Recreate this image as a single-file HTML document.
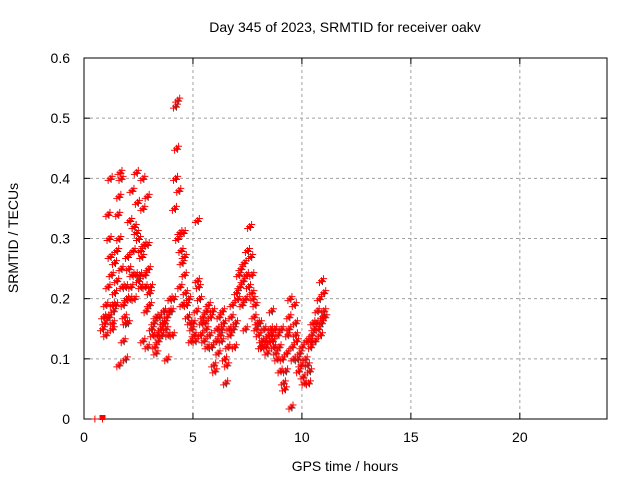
<!DOCTYPE html>
<html><head><meta charset="utf-8"><style>
html,body{margin:0;padding:0;background:#fff}
svg{display:block;font-family:"Liberation Sans",Arial,sans-serif;font-size:14px}
</style></head><body>
<svg id="chart" width="640" height="480" viewBox="0 0 640 480" xmlns="http://www.w3.org/2000/svg">
<text x="345" y="32" text-anchor="middle">Day 345 of 2023, SRMTID for receiver oakv</text>
<g id="grid"></g>
<g id="axes"></g>
<g id="marks"></g>
<text x="345" y="471" text-anchor="middle">GPS time / hours</text>
<text transform="translate(18,238) rotate(-90)" text-anchor="middle">SRMTID / TECUs</text>
</svg>
<script>
const xTicks=[0,5,10,15,20];
const yTicks=[0,0.1,0.2,0.3,0.4,0.5,0.6];
const yTickLabels=["0","0.1","0.2","0.3","0.4","0.5","0.6"];
const hours=[0.85,0.9,0.95,1.0,1.0,1.05,1.1,1.1,1.15,1.15,1.2,1.2,1.25,1.3,1.3,1.35,1.4,1.4,1.45,1.5,1.5,1.55,1.6,1.6,1.65,1.7,1.7,1.75,1.8,1.8,1.85,1.9,1.9,1.95,2.0,2.0,2.05,2.1,2.1,2.15,2.2,2.2,2.25,2.3,2.3,2.35,2.4,2.4,2.45,2.5,2.5,2.55,2.6,2.6,2.65,2.7,2.7,2.75,2.8,2.8,2.85,2.9,2.9,2.95,3.0,3.0,3.05,3.1,3.15,3.2,3.25,3.3,3.35,3.4,3.45,3.5,3.55,3.6,3.65,3.7,3.75,3.8,3.85,3.9,3.95,4.0,4.05,4.1,4.15,4.2,4.2,4.25,4.3,4.3,4.35,4.4,4.4,4.45,4.5,4.5,4.55,4.6,4.65,4.7,4.75,4.8,4.85,4.9,4.95,5.0,5.05,5.1,5.15,5.2,5.2,5.25,5.3,5.35,5.4,5.45,5.5,5.55,5.6,5.65,5.7,5.75,5.8,5.85,5.9,5.95,6.0,6.05,6.1,6.15,6.2,6.25,6.3,6.35,6.4,6.45,6.5,6.55,6.6,6.65,6.7,6.75,6.8,6.85,6.9,6.95,7.0,7.05,7.1,7.15,7.2,7.25,7.3,7.35,7.4,7.45,7.5,7.55,7.6,7.65,7.7,7.7,7.75,7.8,7.85,7.9,7.95,8.0,8.05,8.1,8.15,8.2,8.25,8.3,8.35,8.4,8.45,8.5,8.55,8.6,8.65,8.7,8.75,8.8,8.85,8.9,8.95,9.0,9.05,9.1,9.15,9.2,9.25,9.3,9.35,9.4,9.45,9.5,9.55,9.6,9.65,9.7,9.7,9.75,9.8,9.85,9.9,9.95,10.0,10.05,10.1,10.15,10.2,10.25,10.3,10.35,10.4,10.45,10.5,10.55,10.6,10.65,10.7,10.75,10.8,10.85,10.9,10.95,11.0,11.05,11.0,10.9,1.3,1.6,2.3,2.7,3.3,3.8,4.6,5.6,6.3,7.4,8.6,9.4,10.4,1.9,2.9,4.9,5.9,6.9,8.1,9.1,10.1];
const srmtid=[0.15,0.17,0.16,0.19,0.14,0.17,0.34,0.22,0.30,0.17,0.40,0.27,0.24,0.19,0.16,0.18,0.21,0.26,0.19,0.23,0.28,0.34,0.37,0.30,0.41,0.40,0.25,0.22,0.13,0.19,0.17,0.10,0.22,0.20,0.27,0.16,0.25,0.20,0.33,0.22,0.38,0.24,0.28,0.20,0.32,0.24,0.41,0.31,0.36,0.30,0.23,0.24,0.28,0.22,0.27,0.40,0.35,0.29,0.22,0.24,0.18,0.37,0.29,0.25,0.21,0.19,0.22,0.15,0.14,0.16,0.12,0.11,0.14,0.13,0.17,0.15,0.14,0.16,0.18,0.16,0.15,0.17,0.14,0.18,0.20,0.18,0.14,0.20,0.35,0.40,0.52,0.45,0.53,0.30,0.38,0.31,0.22,0.28,0.26,0.19,0.31,0.24,0.21,0.19,0.17,0.20,0.16,0.13,0.15,0.16,0.14,0.13,0.18,0.33,0.23,0.22,0.20,0.14,0.16,0.17,0.13,0.16,0.15,0.12,0.19,0.14,0.17,0.12,0.18,0.09,0.08,0.13,0.15,0.11,0.17,0.14,0.13,0.18,0.16,0.10,0.06,0.09,0.12,0.15,0.14,0.17,0.19,0.15,0.12,0.16,0.21,0.20,0.24,0.22,0.25,0.19,0.23,0.26,0.20,0.24,0.28,0.22,0.32,0.27,0.24,0.21,0.20,0.17,0.19,0.15,0.16,0.14,0.16,0.12,0.13,0.12,0.15,0.13,0.12,0.11,0.14,0.13,0.15,0.14,0.13,0.12,0.15,0.11,0.10,0.14,0.12,0.08,0.15,0.10,0.06,0.05,0.08,0.11,0.14,0.17,0.20,0.02,0.12,0.10,0.19,0.14,0.16,0.13,0.10,0.08,0.11,0.09,0.12,0.07,0.06,0.10,0.13,0.09,0.06,0.08,0.12,0.14,0.16,0.15,0.13,0.16,0.18,0.15,0.20,0.14,0.16,0.17,0.21,0.17,0.18,0.23,0.15,0.09,0.32,0.13,0.17,0.10,0.27,0.18,0.15,0.15,0.18,0.15,0.13,0.16,0.12];
const extraHours=[0.5,0.85];
const extraVals=[0,0];

const NS="http://www.w3.org/2000/svg";
const L=84,R=607,T=58,B=419,XMAX=24,YMAX=0.6;
const xs=v=>L+(R-L)*v/XMAX;
const ys=v=>B-(B-T)*v/YMAX;
function mk(tag,attrs,parent){const e=document.createElementNS(NS,tag);for(const k in attrs)e.setAttribute(k,attrs[k]);parent.appendChild(e);return e;}
const grid=document.getElementById('grid'),axes=document.getElementById('axes'),marks=document.getElementById('marks');
yTicks.forEach((t,i)=>{
  const y=ys(t);
  if(t>0&&t<YMAX){const g=mk('line',{x1:L,x2:R,y1:y,y2:y,stroke:'#a0a0a0','stroke-dasharray':'3,3'},grid);
  
  }
  const tl=mk('line',{x1:L,x2:L+6,y1:y,y2:y,stroke:'#000'},axes);
  
  
  const tr=mk('line',{x1:R-6,x2:R,y1:y,y2:y,stroke:'#000'},axes);
  
  
  const tx=mk('text',{x:L-14,y:y+5,'text-anchor':'end'},axes);tx.textContent=yTickLabels[i];
  
  
});
xTicks.forEach(t=>{
  const x=xs(t);
  if(t>0){const g=mk('line',{x1:x,x2:x,y1:T,y2:B,stroke:'#a0a0a0','stroke-dasharray':'3,3'},grid);
  
  }
  const tb=mk('line',{x1:x,x2:x,y1:B,y2:B-6,stroke:'#000'},axes);
  
  
  const tt=mk('line',{x1:x,x2:x,y1:T,y2:T+6,stroke:'#000'},axes);
  
  
  const tx=mk('text',{x:x,y:B+23,'text-anchor':'middle'},axes);tx.textContent=String(t);
  
  
});
const box=mk('rect',{x:L,y:T,width:R-L,height:B-T,fill:'none',stroke:'#000'},axes);


function plus(x,y,color,name){
  const p=mk('path',{d:`M${x-3.5},${y}h7M${x},${y-3.5}v7`,stroke:color,'stroke-width':1,fill:'none'},marks);
  
  
}
hours.forEach((h,i)=>{
  const x=xs(h),y=ys(srmtid[i]);
  plus(x+1,y+1,'#404040','point-shadow');
  plus(x-2,y+2,'#ff0000','point');
  plus(x+2,y-2,'#ff0000','point');
  plus(x,y,'#ff0000','point');
});
extraHours.forEach((h,i)=>{
  plus(xs(h),ys(extraVals[i]),'#ff0000','point-zero');
});
const sq=mk('rect',{x:xs(0.85)-3,y:ys(0)-4,width:6,height:5,fill:'#ff0000'},marks);


</script>
</body></html>
